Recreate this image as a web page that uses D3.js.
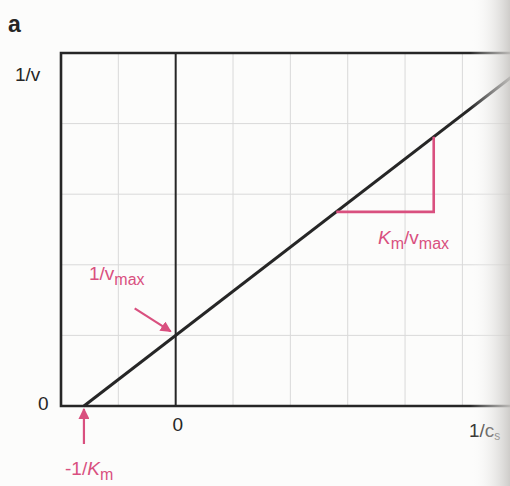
<!DOCTYPE html>
<html>
<head>
<meta charset="utf-8">
<script src="https://cdn.jsdelivr.net/npm/d3@7/dist/d3.min.js"></script>
<style>
  html, body { margin: 0; padding: 0; background: #fcfcfb; }
  svg { display: block; }
  text { font-family: "Liberation Sans", Arial, sans-serif; }
</style>
</head>
<body>
<svg id="chart" width="510" height="486"></svg>
<script>
// Lineweaver–Burk plot: 1/v against 1/c_s
const xDomain = [-2, 5.9];
const yDomain = [0, 5];
const xGrid = [-1, 1, 2, 3, 4, 5];
const yGrid = [1, 2, 3, 4];
const invKm = 1.6;        // 1/Km  (x-intercept at -1/Km)
const invVmax = 1;        // 1/vmax (y-intercept)
const slope = invVmax / invKm; // Km/vmax
const slopeStep = [2.8, 4.5];  // run of the slope triangle

const W = 510, H = 486;
const svg = d3.select("#chart");
const x = d3.scaleLinear().domain(xDomain).range([61, 514]);
const y = d3.scaleLinear().domain(yDomain).range([406, 53]);

const ink = "#262626";
const pink = "#d9507f";

// page shade towards the binding
const defs = svg.append("defs");
const grad = defs.append("linearGradient").attr("id", "shade").attr("x1", 0).attr("x2", 1);
grad.append("stop").attr("offset", 0).attr("stop-color", "#ffffff").attr("stop-opacity", 0);
grad.append("stop").attr("offset", 1).attr("stop-color", "#c9c7c4").attr("stop-opacity", 0.9);
defs.append("marker").attr("id", "head")
  .attr("viewBox", "0 0 10 10").attr("refX", 9).attr("refY", 5)
  .attr("markerWidth", 5).attr("markerHeight", 5).attr("orient", "auto")
  .append("path").attr("d", "M0,0 L10,5 L0,10 Z").attr("fill", pink);

// grid
const g = svg.append("g");
g.selectAll("line.gx").data(xGrid).join("line")
  .attr("x1", d => x(d)).attr("x2", d => x(d))
  .attr("y1", y(5)).attr("y2", y(0))
  .attr("stroke", "#d9d9d9").attr("stroke-width", 1);
g.selectAll("line.gy").data(yGrid).join("line")
  .attr("x1", x(-2)).attr("x2", W)
  .attr("y1", d => y(d)).attr("y2", d => y(d))
  .attr("stroke", "#d9d9d9").attr("stroke-width", 1);

// frame and the 1/v axis at 1/c_s = 0
g.append("path")
  .attr("d", `M${W},${y(5)} L${x(-2)},${y(5)} L${x(-2)},${y(0)} L${W},${y(0)}`)
  .attr("fill", "none").attr("stroke", ink).attr("stroke-width", 2.6);
g.append("line")
  .attr("x1", x(0)).attr("x2", x(0)).attr("y1", y(5)).attr("y2", y(0))
  .attr("stroke", ink).attr("stroke-width", 2);

// regression line 1/v = (Km/vmax)(1/c_s) + 1/vmax
const f = t => slope * t + invVmax;
const lineData = [-invKm, xDomain[1]].map(t => [t, f(t)]);
g.append("path")
  .attr("d", d3.line().x(d => x(d[0])).y(d => y(d[1]))(lineData))
  .attr("fill", "none").attr("stroke", ink).attr("stroke-width", 3);

// slope triangle
const [a, b] = slopeStep;
g.append("path")
  .attr("d", `M${x(a)},${y(f(a))} L${x(b)},${y(f(a))} L${x(b)},${y(f(b))}`)
  .attr("fill", "none").attr("stroke", pink).attr("stroke-width", 2.6);

// arrows
g.append("line")
  .attr("x1", x(0) - 41).attr("y1", y(invVmax) - 27)
  .attr("x2", x(0) - 5).attr("y2", y(invVmax) - 4)
  .attr("stroke", pink).attr("stroke-width", 2.2).attr("marker-end", "url(#head)");
g.append("line")
  .attr("x1", x(-invKm)).attr("y1", y(0) + 38)
  .attr("x2", x(-invKm)).attr("y2", y(0) + 3)
  .attr("stroke", pink).attr("stroke-width", 2.2).attr("marker-end", "url(#head)");

// text
const FS = 19, SUB = 16;
const t = svg.append("g").attr("fill", ink);
t.append("text").attr("x", 8).attr("y", 32).attr("font-size", 23).attr("font-weight", "bold").text("a");
t.append("text").attr("x", 15).attr("y", 81).attr("font-size", FS).text("1/v");
t.append("text").attr("x", 38).attr("y", 410).attr("font-size", FS).text("0");
t.append("text").attr("x", x(0) + 2).attr("y", 431).attr("font-size", FS).attr("text-anchor", "middle").text("0");
const cs = t.append("text").attr("x", 469).attr("y", 437).attr("font-size", FS);
cs.append("tspan").text("1/c");
cs.append("tspan").attr("font-size", 12).attr("dy", 3).text("s");

const p = svg.append("g").attr("fill", pink);
const vm = p.append("text").attr("x", 89).attr("y", 280).attr("font-size", FS);
vm.append("tspan").text("1/v");
vm.append("tspan").attr("font-size", SUB).attr("dy", 5).text("max");
const km = p.append("text").attr("x", 65).attr("y", 475).attr("font-size", FS);
km.append("tspan").text("-1/");
km.append("tspan").attr("font-style", "italic").text("K");
km.append("tspan").attr("font-size", SUB).attr("dy", 5).text("m");
const kv = p.append("text").attr("x", 378).attr("y", 244).attr("font-size", FS);
kv.append("tspan").attr("font-style", "italic").text("K");
kv.append("tspan").attr("font-size", SUB).attr("dy", 5).text("m");
kv.append("tspan").attr("dy", -5).text("/v");
kv.append("tspan").attr("font-size", SUB).attr("dy", 5).text("max");

// shade over the right margin
svg.append("rect").attr("x", 470).attr("y", 0).attr("width", 40).attr("height", H)
  .attr("fill", "url(#shade)");
</script>
</body>
</html>
